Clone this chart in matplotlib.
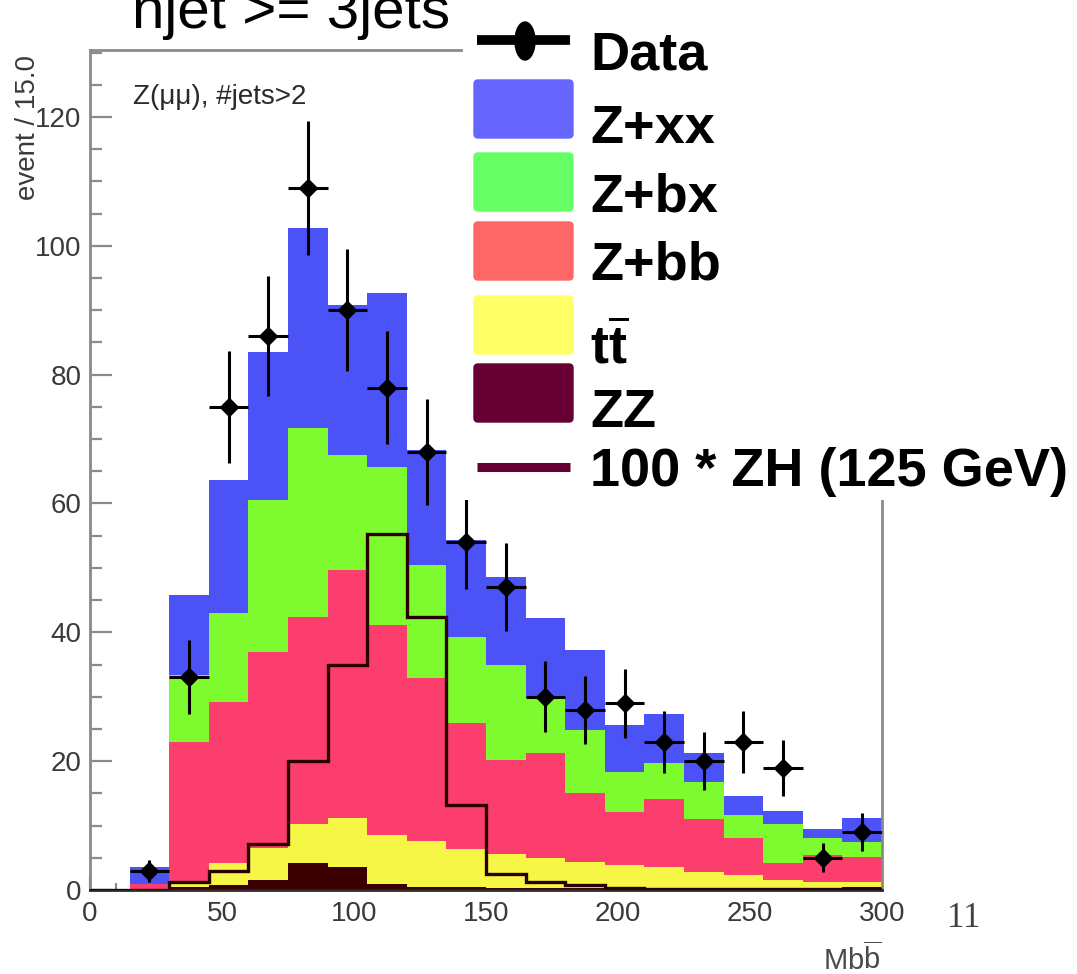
import numpy as np
import matplotlib
matplotlib.use("Agg")
import matplotlib.pyplot as plt
from matplotlib import font_manager as fm
from matplotlib.patches import FancyBboxPatch, Ellipse
from matplotlib.ticker import MultipleLocator

# bin edges of the Mbb histogram (15 GeV bins)
edges = np.arange(0, 301, 15)

# stacked backgrounds, per bin (bottom to top)
zz = [0, 0, 0.4, 0.7, 1.5, 4.2, 3.6, 1.0, 0.5, 0.4, 0.3, 0.3, 0.3, 0.3, 0.3, 0.3, 0.3, 0.3, 0.3, 0.4]
ttbar = [0, 0, 0.7, 3.5, 5.0, 6.1, 7.6, 7.5, 7.1, 6.0, 5.3, 4.7, 4.1, 3.6, 3.3, 2.5, 2.0, 1.2, 1.0, 0.9]
z_bb = [0, 1.0, 21.9, 25.0, 30.5, 32.1, 38.5, 32.6, 25.3, 19.5, 14.6, 16.3, 10.6, 8.2, 10.5, 8.2, 5.7, 2.7, 4.1, 3.9]
z_bx = [0, 0, 10.4, 13.8, 23.6, 29.3, 17.8, 24.6, 17.6, 13.4, 14.7, 8.5, 9.8, 6.2, 5.6, 5.8, 3.6, 6.0, 2.6, 2.2]
z_xx = [0, 2.5, 12.4, 20.7, 22.9, 31.1, 23.3, 27.0, 17.8, 15.1, 13.7, 12.4, 12.5, 7.3, 7.6, 4.4, 3.0, 2.0, 1.4, 3.7]

# 100 * ZH (125 GeV) signal
zh_x100 = [0, 0, 1.3, 2.9, 7.2, 20, 35, 55.2, 42.4, 13.2, 2.5, 1.2, 0.8, 0.3, 0.2, 0.2, 0.2, 0.2, 0.1, 0.1]

# observed events (first bin empty)
data = [0, 3, 33, 75, 86, 109, 90, 78, 68, 54, 47, 30, 28, 29, 23, 20, 23, 19, 5, 9]

bkg_values = [zz, ttbar, z_bb, z_bx, z_xx]
fill_colors = ["#3a0000", "#f6f646", "#fb3e6e", "#7efb2e", "#4b52f6"]
legend_labels = ["Data", "Z+xx", "Z+bx", "Z+bb", r"$\mathbf{t}\overline{\mathbf{t}}$", "ZZ",
                 "100 * ZH (125 GeV)"]
legend_colors = ["#6666ff", "#66ff66", "#ff6666", "#ffff66", "#660033"]


def pick(*names):
    for n in names:
        try:
            fm.findfont(fm.FontProperties(family=n), fallback_to_default=False)
            return n
        except ValueError:
            pass
    return "DejaVu Sans"


sans = pick("Liberation Sans", "DejaVu Sans")
serif = pick("Liberation Serif", "DejaVu Serif")
plt.rcParams["mathtext.fontset"] = "custom"
plt.rcParams["mathtext.rm"] = sans
plt.rcParams["mathtext.bf"] = sans + ":bold"

W, H = 1077, 974
fig = plt.figure(figsize=(W / 100, H / 100), dpi=100)
fig.patch.set_facecolor("white")

ax = fig.add_axes([90 / W, 84 / H, 792 / W, 840 / H])
ax.set_axisbelow(True)

widths = np.diff(edges)
bottom = np.zeros(len(widths))
for vals, c in zip(bkg_values, fill_colors):
    ax.bar(edges[:-1], vals, width=widths, bottom=bottom, align="edge",
           color=c, linewidth=0)
    bottom += np.array(vals)

ax.stairs(zh_x100, edges, color="#2a0000", linewidth=2.4, zorder=3)

centers = 0.5 * (edges[:-1] + edges[1:])
d = np.array(data, dtype=float)
m = d > 0
ax.errorbar(centers[m], d[m], yerr=np.sqrt(d[m]), xerr=widths[m] / 2,
            fmt="D", ms=9, color="black", elinewidth=2.2, capsize=0, zorder=4)

ax.set_xlim(0, 300)
ax.set_ylim(0, 130.4)
ax.xaxis.set_major_locator(MultipleLocator(50))
ax.xaxis.set_minor_locator(MultipleLocator(10))
ax.yaxis.set_major_locator(MultipleLocator(20))
ax.yaxis.set_minor_locator(MultipleLocator(5))
ax.tick_params(which="both", direction="in", color="#8a8a8a", width=1.6,
               labelcolor="#3a3a3a", labelsize=20)
ax.tick_params(which="major", length=16)
ax.tick_params(which="minor", length=8.5)
ax.tick_params(axis="x", which="major", length=10, pad=8)
ax.tick_params(axis="x", which="minor", length=5)
ax.tick_params(axis="y", pad=6)
for lab in ax.get_xticklabels() + ax.get_yticklabels():
    lab.set_family(sans)
for s in ["left", "top", "right"]:
    ax.spines[s].set_color("#8a8a8a")
    ax.spines[s].set_linewidth(2)
ax.spines["bottom"].set_color("#2a2a2a")
ax.spines["bottom"].set_linewidth(2)

ax.text((133 - 90) / 792, 1 - (104 - 50) / 840, "Z(\u03bc\u03bc), #jets>2", transform=ax.transAxes,
        family=sans, fontsize=20, color="#2a2a2a", va="baseline")
fig.text(882 / W, 1 - 970 / H, r"$\mathrm{Mb}\overline{\mathrm{b}}$", fontsize=21,
         color="#4a4a4a", ha="right", va="baseline")
fig.text(28 / W, 1 - 55 / H, "event / 15.0", family=sans, fontsize=20,
         color="#3a3a3a", rotation=90, ha="center", va="top")

# slide decorations
fig.text(132 / W, 1 - 28 / H, "njet >= 3jets", family=sans, fontsize=42,
         color="black", va="baseline")
fig.text(964 / W, 1 - 927 / H, "11", family=serif, fontsize=25,
         color="#404040", ha="center", va="baseline")

# legend box drawn in pixel coordinates
leg = fig.add_axes([463 / W, 1 - 500 / H, 614 / W, 500 / H])
leg.set_xlim(463, 1077)
leg.set_ylim(500, 0)
leg.set_xticks([])
leg.set_yticks([])
for s in leg.spines.values():
    s.set_visible(False)
leg.patch.set_facecolor("white")

leg.plot([477, 570], [40, 40], color="black", linewidth=7, solid_capstyle="butt")
leg.add_patch(Ellipse((525, 41), 20, 38, color="black"))
patch_tops = [80, 153, 222, 296, 364]
for y0, c in zip(patch_tops, legend_colors):
    leg.add_patch(FancyBboxPatch((474, y0), 99, 58, color=c,
                                 boxstyle="round,pad=0,rounding_size=4"))
leg.plot([477, 570], [467, 467], color="#660033", linewidth=6.5, solid_capstyle="butt")

baselines = [70, 143, 211, 280, 363, 427, 486]
for lab, yb in zip(legend_labels, baselines):
    leg.text(590, yb, lab, family=sans, fontweight="bold", fontsize=39,
             color="black", va="baseline")

fig.savefig("out.png", dpi=100, facecolor="white")
